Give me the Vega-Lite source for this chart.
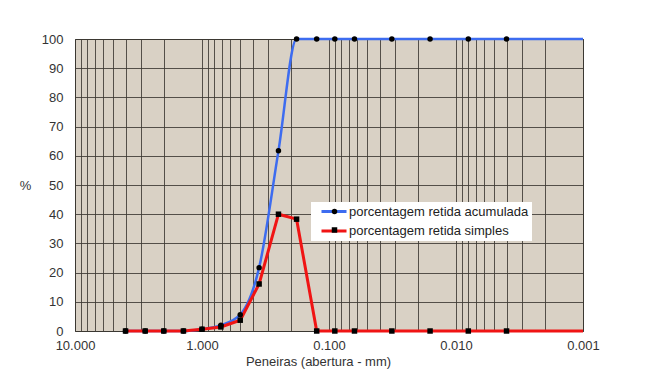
{
  "$schema": "https://vega.github.io/schema/vega-lite/v6.json",
  "width": 508,
  "height": 292,
  "autosize": "none",
  "padding": {"left": 75, "top": 39, "right": 69, "bottom": 52},
  "background": "white",
  "config": {
    "view": {"fill": "#d9d1c5", "stroke": "#3a3632", "strokeWidth": 1},
    "font": "Liberation Sans",
    "axis": {
      "labelFont": "Liberation Sans", "titleFont": "Liberation Sans",
      "labelFontSize": 13, "titleFontSize": 13,
      "labelColor": "#333333", "titleColor": "#333333", "titleFontWeight": "normal",
      "ticks": false, "tickSize": 0, "domain": false,
      "gridColor": "#3c3833", "gridWidth": 1, "gridOpacity": 0.85
    }
  },
  "data": {
    "values": [
      {"abertura": 4, "serie": "porcentagem retida acumulada", "valor": 0},
      {"abertura": 2.8, "serie": "porcentagem retida acumulada", "valor": 0},
      {"abertura": 2, "serie": "porcentagem retida acumulada", "valor": 0},
      {"abertura": 1.4, "serie": "porcentagem retida acumulada", "valor": 0},
      {"abertura": 1, "serie": "porcentagem retida acumulada", "valor": 0.6},
      {"abertura": 0.71, "serie": "porcentagem retida acumulada", "valor": 2.0},
      {"abertura": 0.5, "serie": "porcentagem retida acumulada", "valor": 5.6},
      {"abertura": 0.355, "serie": "porcentagem retida acumulada", "valor": 21.7},
      {"abertura": 0.25, "serie": "porcentagem retida acumulada", "valor": 61.7},
      {"abertura": 0.18, "serie": "porcentagem retida acumulada", "valor": 100},
      {"abertura": 0.125, "serie": "porcentagem retida acumulada", "valor": 100},
      {"abertura": 0.09, "serie": "porcentagem retida acumulada", "valor": 100},
      {"abertura": 0.063, "serie": "porcentagem retida acumulada", "valor": 100},
      {"abertura": 0.032, "serie": "porcentagem retida acumulada", "valor": 100},
      {"abertura": 0.016, "serie": "porcentagem retida acumulada", "valor": 100},
      {"abertura": 0.008, "serie": "porcentagem retida acumulada", "valor": 100},
      {"abertura": 0.004, "serie": "porcentagem retida acumulada", "valor": 100},
      {"abertura": 0.001, "serie": "porcentagem retida acumulada", "valor": 100},
      {"abertura": 4, "serie": "porcentagem retida simples", "valor": 0},
      {"abertura": 2.8, "serie": "porcentagem retida simples", "valor": 0},
      {"abertura": 2, "serie": "porcentagem retida simples", "valor": 0},
      {"abertura": 1.4, "serie": "porcentagem retida simples", "valor": 0},
      {"abertura": 1, "serie": "porcentagem retida simples", "valor": 0.6},
      {"abertura": 0.71, "serie": "porcentagem retida simples", "valor": 1.4},
      {"abertura": 0.5, "serie": "porcentagem retida simples", "valor": 3.7},
      {"abertura": 0.355, "serie": "porcentagem retida simples", "valor": 16.1},
      {"abertura": 0.25, "serie": "porcentagem retida simples", "valor": 40.0},
      {"abertura": 0.18, "serie": "porcentagem retida simples", "valor": 38.3},
      {"abertura": 0.125, "serie": "porcentagem retida simples", "valor": 0},
      {"abertura": 0.09, "serie": "porcentagem retida simples", "valor": 0},
      {"abertura": 0.063, "serie": "porcentagem retida simples", "valor": 0},
      {"abertura": 0.032, "serie": "porcentagem retida simples", "valor": 0},
      {"abertura": 0.016, "serie": "porcentagem retida simples", "valor": 0},
      {"abertura": 0.008, "serie": "porcentagem retida simples", "valor": 0},
      {"abertura": 0.004, "serie": "porcentagem retida simples", "valor": 0},
      {"abertura": 0.001, "serie": "porcentagem retida simples", "valor": 0}
    ]
  },
  "encoding": {
    "x": {
      "field": "abertura", "type": "quantitative",
      "scale": {"type": "log", "domain": [0.001, 10], "reverse": true, "nice": false},
      "axis": {
        "title": "Peneiras (abertura - mm)",
        "values": [10, 9, 8, 7, 6, 5, 4, 3, 2, 1, 0.9, 0.8, 0.7, 0.6, 0.5, 0.4, 0.3, 0.2, 0.1, 0.09, 0.08, 0.07, 0.06, 0.05, 0.04, 0.03, 0.02, 0.01, 0.009, 0.008, 0.007, 0.006, 0.005, 0.004, 0.003, 0.002, 0.001],
        "labelExpr": "indexof(['10','1','0.1','0.01','0.001'], toString(datum.value)) >= 0 ? format(datum.value, '.3f') : ''",
        "labelOverlap": false, "labelFlush": false, "labelBound": false,
        "labelPadding": 8, "titlePadding": 3, "titleX": 243, "grid": true
      }
    },
    "y": {
      "field": "valor", "type": "quantitative",
      "scale": {"domain": [0, 100], "nice": false},
      "axis": {
        "title": "%", "values": [0, 10, 20, 30, 40, 50, 60, 70, 80, 90, 100],
        "labelPadding": 12, "titleAngle": 0, "titleX": -50, "titleY": 146,
        "titleAlign": "center", "titleBaseline": "middle", "grid": true
      }
    }
  },
  "layer": [
    {
      "transform": [{"filter": "datum.serie == 'porcentagem retida acumulada'"}],
      "mark": {"type": "line", "interpolate": "monotone", "strokeWidth": 2.5},
      "encoding": {
        "color": {
          "field": "serie", "type": "nominal",
          "scale": {"domain": ["porcentagem retida acumulada", "porcentagem retida simples"], "range": ["#3d6cf0", "#f01414"]},
          "legend": {
            "orient": "none", "legendX": 236, "legendY": 163, "title": null,
            "fillColor": "white", "padding": 3, "symbolType": "stroke", "symbolSize": 625,
            "clipHeight": 13,
            "symbolStrokeWidth": 3, "symbolOffset": 6, "labelOffset": 1, "rowPadding": 5.5,
            "labelFontSize": 13, "labelFont": "Liberation Sans", "labelColor": "#222222", "labelLimit": 300
          }
        }
      }
    },
    {
      "transform": [{"filter": "datum.serie == 'porcentagem retida simples'"}],
      "mark": {"type": "line", "interpolate": "linear", "strokeWidth": 3},
      "encoding": {
        "color": {"field": "serie", "type": "nominal"}
      }
    },
    {
      "transform": [{"filter": "datum.abertura > 0.001"}],
      "mark": {"type": "point", "filled": true, "color": "black", "size": 30, "opacity": 1},
      "encoding": {
        "shape": {
          "field": "serie", "type": "nominal",
          "scale": {"range": ["circle", "square"]},
          "legend": {
            "orient": "none", "legendX": 253, "legendY": 163, "title": null,
            "padding": 3, "symbolFillColor": "black", "symbolStrokeColor": "black", "symbolSize": 30,
            "clipHeight": 13,
            "rowPadding": 5.5, "labelExpr": "''", "labelFontSize": 1, "labelOffset": 0
          }
        }
      }
    }
  ]
}
